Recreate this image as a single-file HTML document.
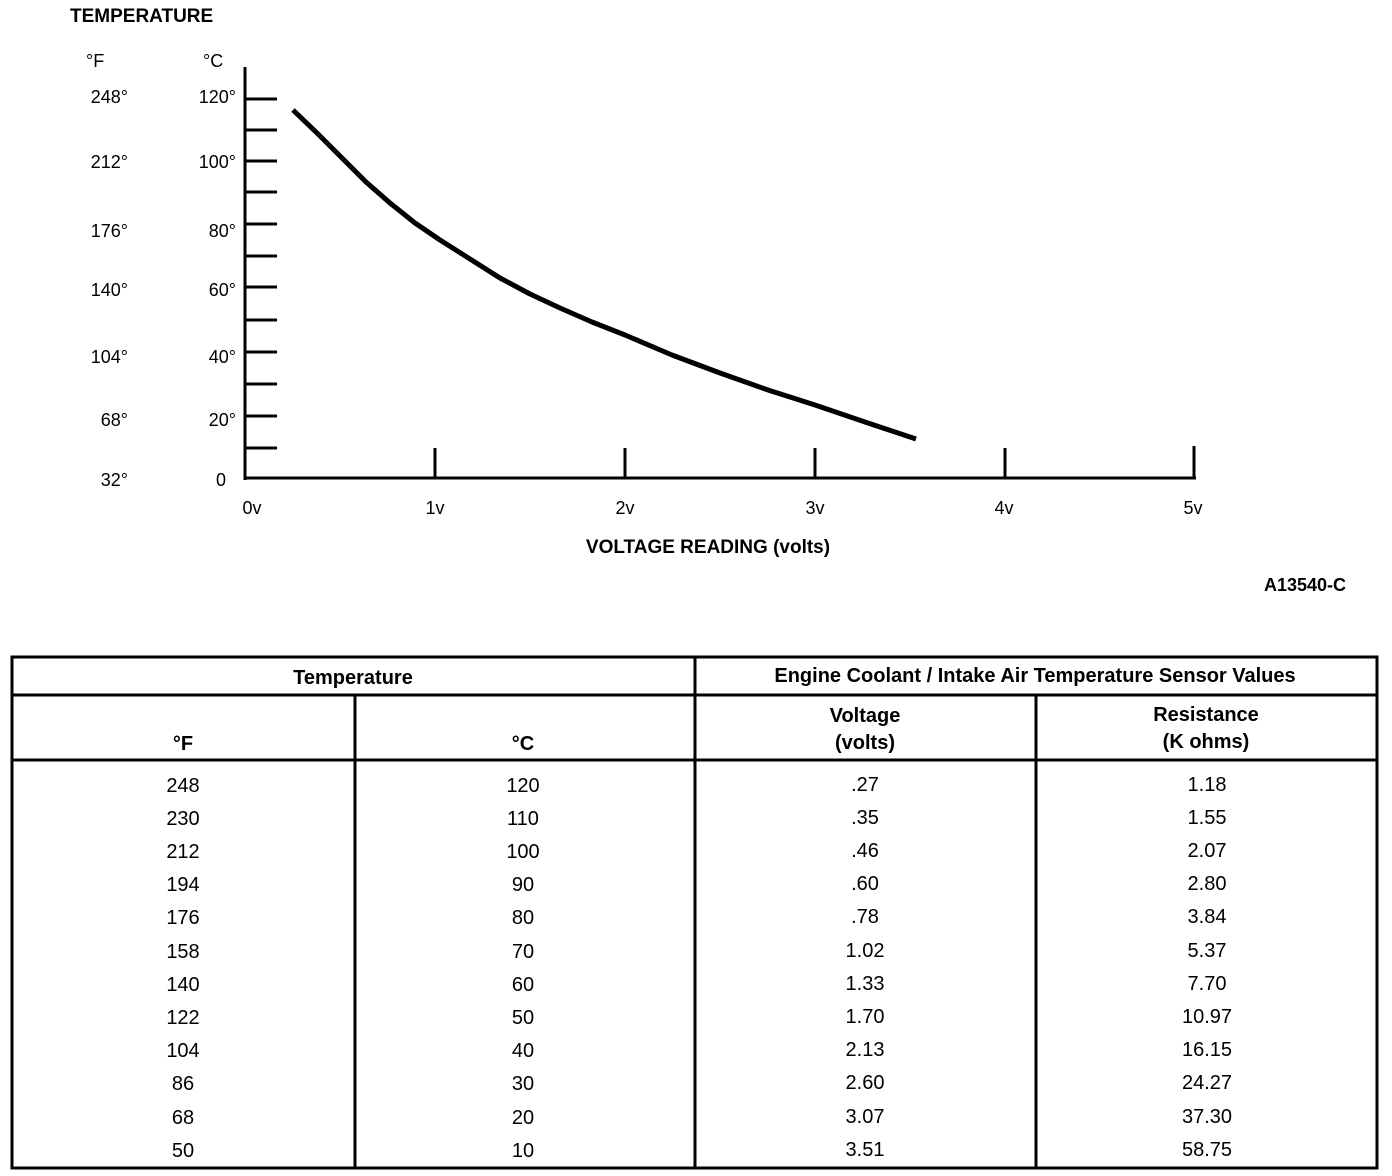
<!DOCTYPE html>
<html><head><style>
html,body{margin:0;padding:0;background:#fff;}
svg{display:block;}
text{font-family:"Liberation Sans",sans-serif;fill:#000;}
.b{font-weight:bold;}
</style></head><body>
<svg width="1392" height="1176" viewBox="0 0 1392 1176">
<text x="70" y="22" class="b" font-size="19">TEMPERATURE</text>
<text x="86" y="67" font-size="18">°F</text>
<text x="203" y="67" font-size="18">°C</text>
<g font-size="18" text-anchor="end">
<text x="128" y="103">248°</text><text x="236" y="103">120°</text>
<text x="128" y="168">212°</text><text x="236" y="168">100°</text>
<text x="128" y="237">176°</text><text x="236" y="237">80°</text>
<text x="128" y="296">140°</text><text x="236" y="296">60°</text>
<text x="128" y="363">104°</text><text x="236" y="363">40°</text>
<text x="128" y="426">68°</text><text x="236" y="426">20°</text>
<text x="128" y="486">32°</text><text x="226" y="486">0</text>
</g>
<g stroke="#000" stroke-width="3" fill="none">
<line x1="245" y1="67" x2="245" y2="480"/>
<line x1="244" y1="478" x2="1196" y2="478"/>
<line x1="245" y1="99" x2="277" y2="99"/>
<line x1="245" y1="130" x2="277" y2="130"/>
<line x1="245" y1="161" x2="277" y2="161"/>
<line x1="245" y1="192" x2="277" y2="192"/>
<line x1="245" y1="224" x2="277" y2="224"/>
<line x1="245" y1="256" x2="277" y2="256"/>
<line x1="245" y1="287" x2="277" y2="287"/>
<line x1="245" y1="320" x2="277" y2="320"/>
<line x1="245" y1="352" x2="277" y2="352"/>
<line x1="245" y1="384" x2="277" y2="384"/>
<line x1="245" y1="416" x2="277" y2="416"/>
<line x1="245" y1="448" x2="277" y2="448"/>
<line x1="435" y1="448" x2="435" y2="478"/>
<line x1="625" y1="448" x2="625" y2="478"/>
<line x1="815" y1="448" x2="815" y2="478"/>
<line x1="1005" y1="448" x2="1005" y2="478"/>
<line x1="1194" y1="446" x2="1194" y2="478"/>
<polyline stroke-width="5" stroke-linejoin="round" points="293,110 318,134 342,158 366,182 390,203 415,223 440,240 470,259 500,278 530,294 560,308 592,322 625,335 672,355 720,373 768,390 815,405 865,422 916,439"/>
</g>
<g font-size="18" text-anchor="middle">
<text x="252" y="514">0v</text><text x="435" y="514">1v</text><text x="625" y="514">2v</text>
<text x="815" y="514">3v</text><text x="1004" y="514">4v</text><text x="1193" y="514">5v</text>
</g>
<text x="708" y="553" class="b" font-size="19" text-anchor="middle">VOLTAGE READING (volts)</text>
<text x="1305" y="591" class="b" font-size="18" text-anchor="middle">A13540-C</text>
<g stroke="#000" stroke-width="3" fill="none">
<rect x="12" y="657" width="1365" height="511"/>
<line x1="12" y1="695" x2="1377" y2="695"/>
<line x1="12" y1="760" x2="1377" y2="760"/>
<line x1="355" y1="695" x2="355" y2="1168"/>
<line x1="695" y1="657" x2="695" y2="1168"/>
<line x1="1036" y1="695" x2="1036" y2="1168"/>
</g>
<g font-size="20" text-anchor="middle" class="b">
<text x="353" y="684">Temperature</text>
<text x="1035" y="682">Engine Coolant / Intake Air Temperature Sensor Values</text>
<text x="183" y="750">°F</text><text x="523" y="750">°C</text>
<text x="865" y="722">Voltage</text><text x="865" y="749">(volts)</text>
<text x="1206" y="721">Resistance</text><text x="1206" y="748">(K ohms)</text>
</g>
<g font-size="20" text-anchor="middle">
<text x="183" y="792">248</text><text x="523" y="792">120</text><text x="865" y="791">.27</text><text x="1207" y="791">1.18</text>
<text x="183" y="825">230</text><text x="523" y="825">110</text><text x="865" y="824">.35</text><text x="1207" y="824">1.55</text>
<text x="183" y="858">212</text><text x="523" y="858">100</text><text x="865" y="857">.46</text><text x="1207" y="857">2.07</text>
<text x="183" y="891">194</text><text x="523" y="891">90</text><text x="865" y="890">.60</text><text x="1207" y="890">2.80</text>
<text x="183" y="924">176</text><text x="523" y="924">80</text><text x="865" y="923">.78</text><text x="1207" y="923">3.84</text>
<text x="183" y="958">158</text><text x="523" y="958">70</text><text x="865" y="957">1.02</text><text x="1207" y="957">5.37</text>
<text x="183" y="991">140</text><text x="523" y="991">60</text><text x="865" y="990">1.33</text><text x="1207" y="990">7.70</text>
<text x="183" y="1024">122</text><text x="523" y="1024">50</text><text x="865" y="1023">1.70</text><text x="1207" y="1023">10.97</text>
<text x="183" y="1057">104</text><text x="523" y="1057">40</text><text x="865" y="1056">2.13</text><text x="1207" y="1056">16.15</text>
<text x="183" y="1090">86</text><text x="523" y="1090">30</text><text x="865" y="1089">2.60</text><text x="1207" y="1089">24.27</text>
<text x="183" y="1124">68</text><text x="523" y="1124">20</text><text x="865" y="1123">3.07</text><text x="1207" y="1123">37.30</text>
<text x="183" y="1157">50</text><text x="523" y="1157">10</text><text x="865" y="1156">3.51</text><text x="1207" y="1156">58.75</text>
</g>
</svg>
</body></html>
